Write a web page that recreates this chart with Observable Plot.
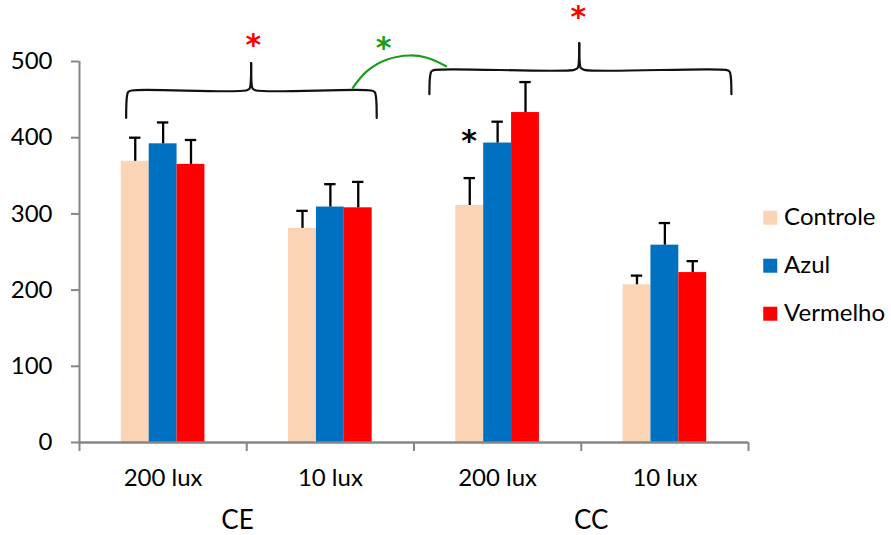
<!DOCTYPE html>
<html><head><meta charset="utf-8">
<script src="https://cdn.jsdelivr.net/npm/d3@7"></script>
<script src="https://cdn.jsdelivr.net/npm/@observablehq/plot@0.6"></script>
<style>body{margin:0;background:#fff}</style>
</head><body><div id="chart"></div>
<script>
// ---- data ----
const groups = ["200 lux", "10 lux", "200 lux", "10 lux"];
const conditions = ["CE", "CC"];
const series = ["Controle", "Azul", "Vermelho"];
const controle = [369, 281, 311, 207];
const controleErr = [400, 304, 347, 219];
const azul = [392, 309, 393, 259];
const azulErr = [420, 339, 421, 288];
const vermelho = [365, 308, 433, 223];
const vermelhoErr = [397, 342, 473, 238];
const yTicks = [0, 100, 200, 300, 400, 500];
const colors = ["#FAD4B5", "#0070C0", "#FF0000"];

// annotation anchors (data units)
const braceCE = {x1: 0.283, xc: 1.026, x2: 1.773, yEnd: 426, yLine: 462, yPeak: 498};
const braceCC = {x1: 2.096, xc: 2.988, x2: 3.894, yEnd: 457, yLine: 489, yPeak: 524};
const greenArc = [
  {x: 1.634, y: 465.5}, {x: 1.719, y: 487.4}, {x: 1.839, y: 502.6},
  {x: 1.975, y: 507.9}, {x: 2.078, y: 504.9}, {x: 2.192, y: 493.8}
];
const stars = [
  {x: 1.040, y: 527, color: "#FF0000"},
  {x: 2.982, y: 563, color: "#FF0000"},
  {x: 1.818, y: 523, color: "#1A9E1A"},
  {x: 2.329, y: 401, color: "#000000"}
];
const conditionPos = [0.945, 3.06];
const legendY = [295, 232, 169];
const legendX = 4.13;

// ---- build tables ----
const vals = [controle, azul, vermelho];
const errs = [controleErr, azulErr, vermelhoErr];
const table = [];
groups.forEach((g, i) => {
  series.forEach((s, j) => {
    table.push({
      series: s,
      value: vals[j][i],
      err: errs[j][i],
      x1: i + 0.25 + j / 6,
      x2: i + 0.25 + (j + 1) / 6,
      xc: i + 0.25 + (j + 0.5) / 6
    });
  });
});

function brace(b) {
  const half = (side) => {
    const s = side === "L" ? 1 : -1;
    const xe = side === "L" ? b.x1 : b.x2;
    return [
      [xe - s * 0.004, b.yEnd],
      [xe, b.yLine - 9],
      [xe + s * 0.008, b.yLine - 2],
      [xe + s * 0.03, b.yLine],
      [b.xc - s * 0.03, b.yLine],
      [b.xc - s * 0.009, b.yLine + 2.5],
      [b.xc - s * 0.002, b.yLine + 12],
      [b.xc, b.yPeak]
    ].map(([x, y]) => ({x, y, z: side}));
  };
  return half("L").concat(half("R"));
}

const gray = "#868686";

const chart = Plot.plot({
  width: 891,
  height: 535,
  marginLeft: 79,
  marginRight: 143,
  marginTop: 61,
  marginBottom: 93,
  style: {fontFamily: "Lato, 'Open Sans', sans-serif", fontSize: "24px", color: "#000", background: "#fff"},
  x: {domain: [0, 4], axis: null},
  y: {domain: [0, 500], axis: null},
  color: {domain: series, range: colors},
  marks: [
    // bars
    Plot.rect(table, {x1: "x1", x2: "x2", y1: 0, y2: "value", fill: "series"}),
    // error bars
    Plot.ruleX(table, {x: "xc", y1: "value", y2: "err", stroke: "#000", strokeWidth: 2.3}),
    Plot.ruleY(table, {y: "err", x1: d => d.xc - 0.034, x2: d => d.xc + 0.034, stroke: "#000", strokeWidth: 2.3}),
    // axes
    Plot.axisY({ticks: yTicks, tickSize: 8, tickPadding: 19, stroke: gray, strokeWidth: 2, fontSize: 24}),
    Plot.ruleX([0], {y1: 0, y2: 500, stroke: gray, strokeWidth: 2}),
    Plot.ruleY([0], {stroke: gray, strokeWidth: 2.5}),
    Plot.axisX({ticks: [0, 1, 2, 3, 4], tickSize: 9, tickFormat: () => "", stroke: gray, strokeWidth: 2}),
    Plot.axisX({ticks: [0.5, 1.5, 2.5, 3.5], tickSize: 0, tickPadding: 26, tickFormat: (d, k) => groups[k], fontSize: 24}),
    Plot.text(conditions, {x: (d, k) => conditionPos[k], y: 0, text: d => d, dy: 78, fontSize: 26, lineAnchor: "middle"}),
    // braces
    Plot.line(brace(braceCE), {x: "x", y: "y", z: "z", curve: "catmull-rom", stroke: "#111", strokeWidth: 2.2}),
    Plot.line(brace(braceCC), {x: "x", y: "y", z: "z", curve: "catmull-rom", stroke: "#111", strokeWidth: 2.2}),
    Plot.line(greenArc, {x: "x", y: "y", curve: "catmull-rom", stroke: "#1A9E1A", strokeWidth: 2.2}),
    Plot.text(stars, {x: "x", y: "y", text: () => "*", fill: "color", fontSize: 30, fontWeight: "bold", dy: 4, fontFamily: "'DejaVu Sans', sans-serif"}),
    // legend
    Plot.dot(series, {x: legendX, y: (d, k) => legendY[k], symbol: "square", r: 7.9, fill: d => d}),
    Plot.text(series, {x: legendX + 0.083, y: (d, k) => legendY[k], text: d => d, textAnchor: "start", fontSize: 24})
  ]
});
document.getElementById("chart").appendChild(chart);
</script>
</body></html>
